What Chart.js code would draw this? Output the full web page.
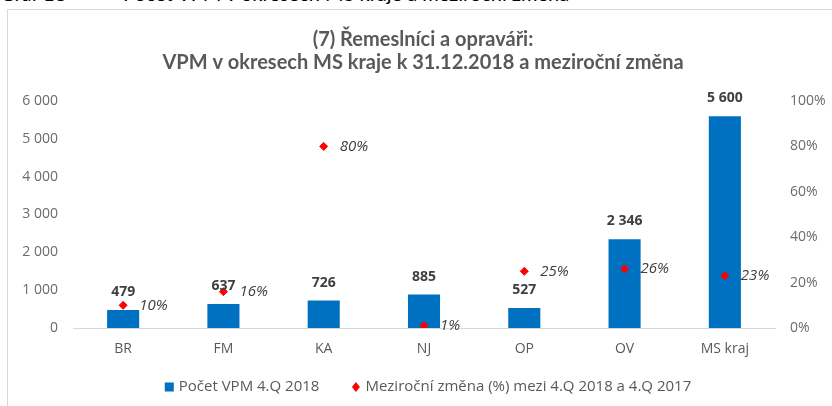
<!DOCTYPE html>
<html>
<head>
<meta charset="utf-8">
<script src="https://cdn.jsdelivr.net/npm/chart.js@4/dist/chart.umd.min.js"></script>
<style>
    html, body { margin: 0; padding: 0; background: #fff; overflow: hidden; }
    #caption {
        position: absolute; left: 0; top: -17px; height: 20px; width: 832px;
        font: 20px Lato, sans-serif; line-height: 20px; color: #000; white-space: nowrap;
    }
    #caption span { position: absolute; top: 0; }
    #frame {
        position: absolute; left: 7px; top: 9px; width: 900px; height: 500px;
        border: 1px solid #d9d9d9;
    }
    #wrap { position: absolute; left: 0; top: 0; width: 832px; height: 406px; }
</style>
</head>
<body>
<div id="caption"><span style="left:0">Graf 18</span><span style="left:72px">–</span><span style="left:123px">Počet VPM v okresech MS kraje a meziroční změna</span></div>
<div id="frame"></div>
<div id="wrap"><canvas id="chart" width="832" height="406"></canvas></div>
<script>
// Data
const categories = ['BR', 'FM', 'KA', 'NJ', 'OP', 'OV', 'MS kraj'];
const vpmCounts = [479, 637, 726, 885, 527, 2346, 5600];
const yoyChangePct = [10, 16, 80, 1, 25, 26, 23];
const titleLines = ['(7) Řemeslníci a opraváři:', 'VPM v okresech MS kraje k 31.12.2018 a meziroční změna'];
const seriesNames = ['Počet VPM 4.Q 2018', 'Meziroční změna (%) mezi 4.Q 2018 a 4.Q 2017'];

const BAR_BLUE = '#0070C0';
const RED = '#FF0000';
const GREY = '#595959';
const LEGEND_GAP = 32; // extra room between the two legend entries

// thousands separated by a space, as in the Czech original
const fmt = v => String(v).replace(/\B(?=(\d{3})+(?!\d))/g, ' ');

// draws the value labels next to bars and points
const valueLabels = {
    id: 'valueLabels',
    afterDatasetsDraw(chart) {
        const ctx = chart.ctx;
        ctx.save();
        ctx.textBaseline = 'middle';

        const bars = chart.getDatasetMeta(0);
        ctx.font = 'bold 14px "Open Sans", sans-serif';
        ctx.fillStyle = '#404040';
        ctx.textAlign = 'center';
        bars.data.forEach((el, i) => {
            ctx.fillText(fmt(vpmCounts[i]), el.x, el.y - 18);
        });

        const pts = chart.getDatasetMeta(1);
        ctx.font = 'italic 15px "Open Sans", sans-serif';
        ctx.textAlign = 'left';
        pts.data.forEach((el, i) => {
            ctx.fillText(yoyChangePct[i] + '%', el.x + 16, el.y);
        });
        ctx.restore();
    }
};

// legend drawn by hand so the gap between entries can match the original
const bottomLegend = {
    id: 'bottomLegend',
    afterDraw(chart) {
        const ctx = chart.ctx;
        const y = 387;
        ctx.save();
        ctx.font = '15px "Open Sans", sans-serif';
        ctx.textBaseline = 'middle';
        ctx.textAlign = 'left';
        const w0 = ctx.measureText(seriesNames[0]).width;
        const w1 = ctx.measureText(seriesNames[1]).width;
        const box = 9, gap = 5;
        const total = box + gap + w0 + LEGEND_GAP + box + gap + w1;
        let x = (chart.chartArea.left + chart.chartArea.right) / 2 - total / 2 + 4;

        ctx.fillStyle = BAR_BLUE;
        ctx.fillRect(x, y - box / 2, box, box);
        x += box + gap;
        ctx.fillStyle = GREY;
        ctx.fillText(seriesNames[0], x, y);
        x += w0 + LEGEND_GAP;

        ctx.fillStyle = RED;
        ctx.beginPath();
        ctx.moveTo(x + box / 2, y - 5);
        ctx.lineTo(x + box / 2 + 4, y);
        ctx.lineTo(x + box / 2, y + 5);
        ctx.lineTo(x + box / 2 - 4, y);
        ctx.closePath();
        ctx.fill();
        x += box + gap;
        ctx.fillStyle = GREY;
        ctx.fillText(seriesNames[1], x, y);
        ctx.restore();
    }
};

new Chart(document.getElementById('chart'), {
    type: 'bar',
    data: {
        labels: categories,
        datasets: [
            {
                label: seriesNames[0],
                data: vpmCounts,
                backgroundColor: BAR_BLUE,
                yAxisID: 'y',
                barPercentage: 0.32,
                categoryPercentage: 1,
                order: 2
            },
            {
                type: 'line',
                label: seriesNames[1],
                data: yoyChangePct,
                yAxisID: 'y1',
                showLine: false,
                pointStyle: 'rectRot',
                pointRadius: 4,
                pointBackgroundColor: RED,
                pointBorderColor: RED,
                backgroundColor: RED,
                borderColor: RED,
                order: 1
            }
        ]
    },
    options: {
        responsive: false,
        animation: false,
        layout: { padding: { left: 14, right: 0, top: 0, bottom: 35 } },
        plugins: {
            title: {
                display: true,
                text: titleLines,
                color: GREY,
                font: { family: 'Lato', size: 20, weight: 'bold', lineHeight: 1.15 },
                padding: { top: 28, bottom: 27 }
            },
            legend: { display: false },
            tooltip: { enabled: false }
        },
        scales: {
            x: {
                grid: { display: false, drawTicks: false },
                border: { color: '#d9d9d9', width: 1 },
                ticks: { color: GREY, font: { family: 'Open Sans', size: 14 }, padding: 13 },
                afterFit: s => { s.height = 43; }
            },
            y: {
                position: 'left',
                min: 0,
                max: 6000,
                grid: { display: false, drawTicks: false },
                border: { display: false },
                ticks: {
                    stepSize: 1000,
                    color: '#6b6b6b',
                    font: { family: 'Open Sans', size: 14 },
                    padding: 15,
                    callback: v => fmt(v)
                },
                afterFit: s => { s.width = 59; }
            },
            y1: {
                position: 'right',
                min: 0,
                max: 100,
                grid: { display: false, drawTicks: false },
                border: { display: false },
                ticks: {
                    stepSize: 20,
                    color: '#6b6b6b',
                    font: { family: 'Open Sans', size: 14 },
                    padding: 15,
                    callback: v => v + '%'
                },
                afterFit: s => { s.width = 57; }
            }
        }
    },
    plugins: [valueLabels, bottomLegend]
});
</script>
</body>
</html>
